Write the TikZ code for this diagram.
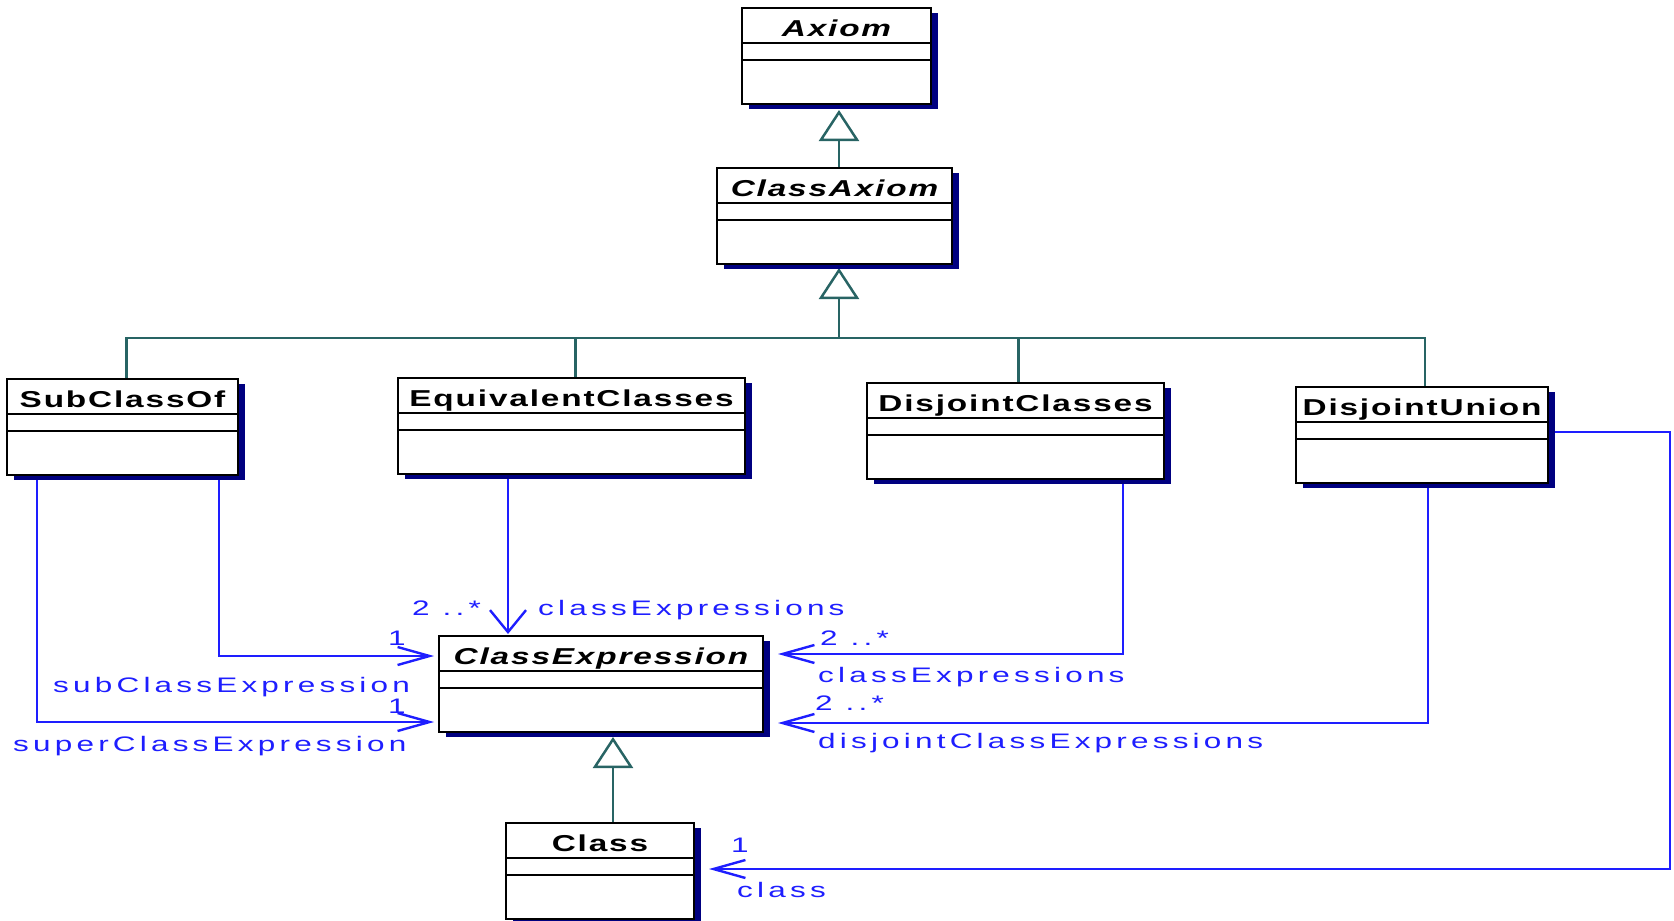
\documentclass[tikz,border=0pt]{standalone}
\usepackage{fontspec}
\usetikzlibrary{arrows.meta,shadows}
\newfontfamily\lblfont[FakeStretch=1.5,LetterSpace=20]{Liberation Sans}
\newfontfamily\ttlfont[FakeStretch=1.45,LetterSpace=8]{Liberation Sans}
\definecolor{assoc}{RGB}{30,30,255}
\definecolor{genl}{RGB}{40,100,100}
\definecolor{shade}{RGB}{0,0,128}
\pgfdeclarelayer{bg}
\pgfsetlayers{bg,main}
\begin{document}
\begin{tikzpicture}[x=1pt,y=-1pt,
  umlbox/.style={draw=black, line width=2.2pt, fill=white, anchor=north west,
    minimum height=96pt, inner sep=0pt, outer sep=0pt,
    general shadow={fill=shade, shadow xshift=7pt, shadow yshift=-5pt}},
  comp/.style={line width=1.8pt},
  title/.style={anchor=base, inner sep=0pt,
    font=\ttlfont\bfseries\fontsize{23pt}{26pt}\selectfont},
  lbl/.style={anchor=base west, inner sep=0pt, text=assoc,
    font=\lblfont\fontsize{21pt}{24pt}\selectfont},
  gen/.style={draw=genl, line width=2.5pt},
  gentip/.style={-{Triangle[open, length=31pt, width=40pt]}},
  assocline/.style={draw=assoc, line width=2.4pt},
  harrow/.style={-{Straight Barb[length=32pt, width=18pt]}},
  varrow/.style={-{Straight Barb[length=22pt, width=36pt]}}]

\useasboundingbox (0,0) rectangle (1674,921);

% classes
\node[umlbox, minimum width=189pt] (axiom) at (742,8) {};
\node[umlbox, minimum width=235pt] (classaxiom) at (717,168) {};
\node[umlbox, minimum width=231pt] (subclassof) at (7,379) {};
\node[umlbox, minimum width=347pt] (equiv) at (398,378) {};
\node[umlbox, minimum width=297pt] (disjcls) at (867,383) {};
\node[umlbox, minimum width=252pt] (disjunion) at (1296,387) {};
\node[umlbox, minimum width=324pt] (clsexpr) at (439,636) {};
\node[umlbox, minimum width=188pt] (cls) at (506,823) {};

% compartments
\foreach \n in {axiom,classaxiom,subclassof,equiv,disjcls,disjunion,clsexpr,cls}{
  \draw[comp] ([yshift=-35pt]\n.north west) -- ([yshift=-35pt]\n.north east);
  \draw[comp] ([yshift=-52pt]\n.north west) -- ([yshift=-52pt]\n.north east);
}

% class names
\node[title] (axiom-t) at ([yshift=-28pt]axiom.north) {\itshape Axiom};
\node[title] (classaxiom-t) at ([yshift=-28pt]classaxiom.north) {\itshape ClassAxiom};
\node[title] (subclassof-t) at ([yshift=-28pt]subclassof.north) {SubClassOf};
\node[title] (equiv-t) at ([yshift=-28pt]equiv.north) {EquivalentClasses};
\node[title] (disjcls-t) at ([yshift=-28pt]disjcls.north) {DisjointClasses};
\node[title] (disjunion-t) at ([yshift=-28pt]disjunion.north) {DisjointUnion};
\node[title] (clsexpr-t) at ([yshift=-28pt]clsexpr.north) {\itshape ClassExpression};
\node[title] (cls-t) at ([yshift=-28pt]cls.north) {Class};

% association end labels
\node[lbl] (l-eq-m) at (412,615) {2 ..*};
\node[lbl] (l-eq-r) at (538,615) {classExpressions};
\node[lbl] (l-sub-m) at (388,645) {1};
\node[lbl] (l-sub-r) at (53,692) {subClassExpression};
\node[lbl] (l-sup-m) at (388,713) {1};
\node[lbl] (l-sup-r) at (13,751) {superClassExpression};
\node[lbl] (l-dc-m) at (820,645) {2 ..*};
\node[lbl] (l-dc-r) at (818,682) {classExpressions};
\node[lbl] (l-du-m) at (815,710) {2 ..*};
\node[lbl] (l-du-r) at (818,748) {disjointClassExpressions};
\node[lbl] (l-cl-m) at (731,852) {1};
\node[lbl] (l-cl-r) at (737,897) {class};

\coordinate (hub) at (839,338);
\coordinate (g3) at (613,0);

\begin{pgfonlayer}{bg}
  % generalizations
  \draw[gen, gentip, shorten >=6pt] (classaxiom.north -| hub) -- (axiom.south -| hub);
  \draw[gen, gentip, shorten >=4pt] (hub) -- (classaxiom.south -| hub);
  \draw[gen] ([xshift=4pt]subclassof.north) |- (hub);
  \draw[gen] ([xshift=3pt]disjunion.north) |- (hub);
  \draw[gen] ([xshift=4pt]equiv.north) -- ([xshift=4pt]equiv.north |- hub);
  \draw[gen] ([xshift=3pt]disjcls.north) -- ([xshift=3pt]disjcls.north |- hub);
  \draw[gen, gentip, shorten >=5pt] (cls.north -| g3) -- (clsexpr.south -| g3);

  % associations
  \draw[assocline, harrow, shorten >=5pt]
    ([xshift=212pt]subclassof.south west) |- ([yshift=-20pt]clsexpr.north west);
  \draw[assocline, harrow, shorten >=5pt]
    ([xshift=30pt]subclassof.south west) |- ([yshift=-86pt]clsexpr.north west);
  \draw[assocline, varrow, shorten >=2pt]
    ([xshift=110pt]equiv.south west) -- ([xshift=110pt]equiv.south west |- clsexpr.north);
  \draw[assocline, harrow, shorten >=15pt]
    ([xshift=256pt]disjcls.south west) |- ([yshift=-18pt]clsexpr.north east);
  \draw[assocline, harrow, shorten >=15pt]
    ([xshift=132pt]disjunion.south west) |- ([yshift=-87pt]clsexpr.north east);
  \draw[assocline, harrow, shorten >=15pt]
    ([yshift=-45pt]disjunion.north east) -- ++(122pt,0) |- ([yshift=-46pt]cls.north east);
\end{pgfonlayer}
\end{tikzpicture}
\end{document}
